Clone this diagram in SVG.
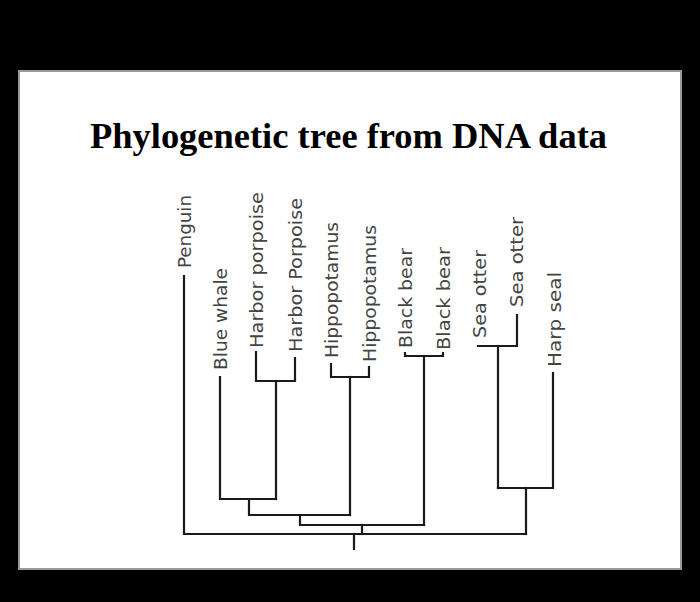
<svg xmlns="http://www.w3.org/2000/svg" width="700" height="602" viewBox="0 0 700 602">
<style>
.lbl{font-family:"DejaVu Sans","Liberation Sans",sans-serif;font-size:17px;fill:#444}
.ln{fill:none;stroke:#1a1a1a;stroke-width:2.2;stroke-linecap:square}
</style>
<rect x="0" y="0" width="700" height="602" fill="#000"/>
<rect x="19" y="71" width="662" height="498" fill="#fff" stroke="#9a9a9a" stroke-width="2"/>
<text x="348.5" y="148" text-anchor="middle" font-family="'Liberation Serif','Times New Roman',serif" font-weight="bold" font-size="36.5" fill="#000" textLength="517" lengthAdjust="spacingAndGlyphs">Phylogenetic tree from DNA data</text>
<g id="connectors">
<path class="ln" d="M184 276 V534 H526"/>
<path class="ln" d="M354 534 V549"/>
<path class="ln" d="M220 377 V499 H276"/>
<path class="ln" d="M256 352 V381 H295 V358"/>
<path class="ln" d="M276 381 V499"/>
<path class="ln" d="M249 499 V515 H350"/>
<path class="ln" d="M331 364 V377 H369 V367"/>
<path class="ln" d="M350 377 V515"/>
<path class="ln" d="M300 515 V525 H424"/>
<path class="ln" d="M405 353 V356 H443 V353"/>
<path class="ln" d="M424 356 V525"/>
<path class="ln" d="M362 525 V534"/>
<path class="ln" d="M478 346 H517 V315"/>
<path class="ln" d="M498 346 V488"/>
<path class="ln" d="M553 373 V488 H498"/>
<path class="ln" d="M526 488 V534"/>
</g>
<g id="penguin"><text class="lbl" transform="translate(191,268) rotate(-90)" textLength="73" lengthAdjust="spacingAndGlyphs">Penguin</text></g>
<g id="blue-whale"><text class="lbl" transform="translate(227,370) rotate(-90)" textLength="102" lengthAdjust="spacingAndGlyphs">Blue  whale</text></g>
<g id="harbor-porpoise-1"><text class="lbl" transform="translate(263,348) rotate(-90)" textLength="156" lengthAdjust="spacingAndGlyphs">Harbor  porpoise</text></g>
<g id="harbor-porpoise-2"><text class="lbl" transform="translate(302,352) rotate(-90)" textLength="154" lengthAdjust="spacingAndGlyphs">Harbor  Porpoise</text></g>
<g id="hippopotamus-1"><text class="lbl" transform="translate(338,358) rotate(-90)" textLength="136" lengthAdjust="spacingAndGlyphs">Hippopotamus</text></g>
<g id="hippopotamus-2"><text class="lbl" transform="translate(376,362) rotate(-90)" textLength="137" lengthAdjust="spacingAndGlyphs">Hippopotamus</text></g>
<g id="black-bear-1"><text class="lbl" transform="translate(412,348) rotate(-90)" textLength="100" lengthAdjust="spacingAndGlyphs">Black  bear</text></g>
<g id="black-bear-2"><text class="lbl" transform="translate(450,350) rotate(-90)" textLength="103" lengthAdjust="spacingAndGlyphs">Black  bear</text></g>
<g id="sea-otter-1"><text class="lbl" transform="translate(486,338) rotate(-90)" textLength="88" lengthAdjust="spacingAndGlyphs">Sea  otter</text></g>
<g id="sea-otter-2"><text class="lbl" transform="translate(523,307) rotate(-90)" textLength="90" lengthAdjust="spacingAndGlyphs">Sea  otter</text></g>
<g id="harp-seal"><text class="lbl" transform="translate(561,367) rotate(-90)" textLength="95" lengthAdjust="spacingAndGlyphs">Harp  seal</text></g>
</svg>
